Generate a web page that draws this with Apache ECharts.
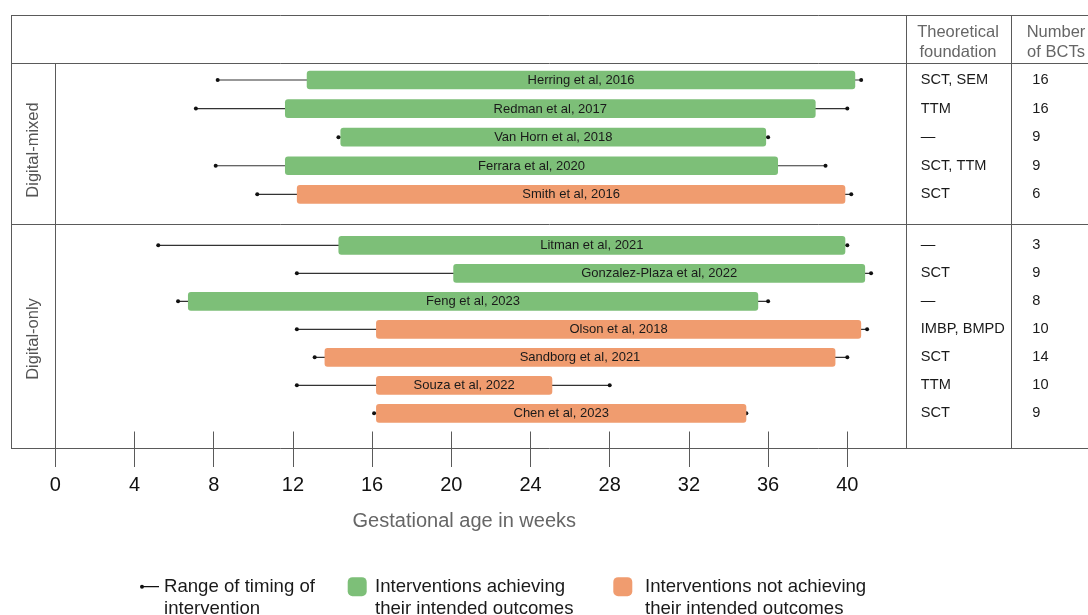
<!DOCTYPE html>
<html><head><meta charset="utf-8">
<script src="https://cdn.jsdelivr.net/npm/echarts@6/dist/echarts.min.js"></script>
<style>html,body{margin:0;padding:0;background:#fff}#c{width:1088px;height:615px}</style>
</head><body><div id="c"></div>
<script>
// ---- data ----
const studies = ['Herring et al, 2016','Redman et al, 2017','Van Horn et al, 2018','Ferrara et al, 2020','Smith et al, 2016',
  'Litman et al, 2021','Gonzalez-Plaza et al, 2022','Feng et al, 2023','Olson et al, 2018','Sandborg et al, 2021','Souza et al, 2022','Chen et al, 2023'];
const groups = ['Digital-mixed','Digital-mixed','Digital-mixed','Digital-mixed','Digital-mixed',
  'Digital-only','Digital-only','Digital-only','Digital-only','Digital-only','Digital-only','Digital-only'];
const groupNames = ['Digital-mixed', 'Digital-only'];
const rangeStart = [8.2, 7.1, 14.3, 8.1, 10.2, 5.2, 12.2, 6.2, 12.2, 13.1, 12.2, 16.1];
const rangeEnd   = [40.7, 40.0, 36.0, 38.9, 40.2, 40.0, 41.2, 36.0, 41.0, 40.0, 28.0, 34.9];
const barStart   = [12.7, 11.6, 14.4, 11.6, 12.2, 14.3, 20.1, 6.7, 16.2, 13.6, 16.2, 16.2];
const barEnd     = [40.4, 38.4, 35.9, 36.5, 39.9, 39.9, 40.9, 35.5, 40.7, 39.4, 25.1, 34.9];
const achieved   = [true, true, true, true, false, true, true, true, false, false, false, false];
const theory     = ['SCT, SEM','TTM','—','SCT, TTM','SCT','—','SCT','—','IMBP, BMPD','SCT','TTM','SCT'];
const bcts       = [16, 16, 9, 9, 6, 3, 9, 8, 10, 14, 10, 9];
const xMin = 0, xMax = 40, xStep = 4;
const axisTitle = 'Gestational age in weeks';
const headerTheory = 'Theoretical\nfoundation';
const headerBcts = 'Number\nof BCTs';
const legendRange = 'Range of timing of\nintervention';
const legendYes = 'Interventions achieving\ntheir intended outcomes';
const legendNo = 'Interventions not achieving\ntheir intended outcomes';

// ---- helpers ----
const FONT = '"Liberation Sans", Arial, sans-serif';
const GREEN = '#7dbf78', ORANGE = '#f09c6f', LINE = '#5a5a5a';
const BAR_H = 18.7;

const theoryMap = {}, bctMap = {};
studies.forEach((s, i) => { theoryMap[s] = theory[i]; bctMap[s] = String(bcts[i]); });

function renderRange(params, api) {
  const y = api.value(1);
  const p0 = api.coord([api.value(0), y]);
  const p1 = api.coord([api.value(2), y]);
  return { type: 'group', children: [
    { type: 'line', shape: { x1: p0[0], y1: p0[1], x2: p1[0], y2: p1[1] }, style: { stroke: '#333', lineWidth: 1.2 } },
    { type: 'circle', shape: { cx: p0[0], cy: p0[1], r: 2 }, style: { fill: '#111' } },
    { type: 'circle', shape: { cx: p1[0], cy: p1[1], r: 2 }, style: { fill: '#111' } }
  ]};
}
function makeBarRenderer(idx) {
  return function (params, api) {
    const y = api.value(1);
    const p0 = api.coord([api.value(0), y]);
    const p1 = api.coord([api.value(2), y]);
    return { type: 'group', children: [
      { type: 'rect', shape: { x: p0[0], y: p0[1] - BAR_H / 2, width: p1[0] - p0[0], height: BAR_H, r: 3 },
        style: { fill: api.visual('color') } },
      { type: 'text', style: { text: studies[idx[params.dataIndex]], x: (p0[0] + p1[0]) / 2, y: p0[1] + 0.5,
        align: 'center', verticalAlign: 'middle', fill: '#1a1a1a', fontSize: 13, fontFamily: FONT } }
    ]};
  };
}
function hline(y, x1, x2) { return { type: 'line', shape: { x1: x1, y1: y, x2: x2, y2: y }, style: { stroke: LINE, lineWidth: 1 }, silent: true }; }
function vline(x, y1, y2) { return { type: 'line', shape: { x1: x, y1: y1, x2: x, y2: y2 }, style: { stroke: LINE, lineWidth: 1 }, silent: true }; }

// ---- layout: one grid per group ----
const gridBoxes = [ { top: 65.7, height: 142.9 }, { top: 231.3, height: 196 } ];
const grids = [], xAxes = [], yAxes = [], series = [];

const xBase = { type: 'value', min: xMin, max: xMax, interval: xStep, position: 'bottom',
  axisLine: { show: false }, splitLine: { show: false } };

groupNames.forEach((g, gi) => {
  const idx = []; studies.forEach((s, i) => { if (groups[i] === g) idx.push(i); });
  const cats = idx.map(i => studies[i]);
  grids.push({ left: 55.3, right: 240.7, top: gridBoxes[gi].top, height: gridBoxes[gi].height });
  const last = gi === groupNames.length - 1;
  const xi = xAxes.length;
  if (!last) {
    xAxes.push(Object.assign({}, xBase, { gridIndex: gi, axisTick: { show: false }, axisLabel: { show: false } }));
  } else {
    const off = 448.5 - (gridBoxes[gi].top + gridBoxes[gi].height);
    xAxes.push(Object.assign({}, xBase, { gridIndex: gi, offset: off,
      axisTick: { show: true, inside: false, length: 18.5, lineStyle: { color: LINE, width: 1 } },
      axisLabel: { margin: 27, fontSize: 20, color: '#111', fontFamily: FONT },
      name: axisTitle, nameLocation: 'middle', nameGap: 63,
      nameTextStyle: { fontSize: 20, color: '#666', fontFamily: FONT, padding: [0, 0, 0, 26] } }));
    xAxes.push(Object.assign({}, xBase, { gridIndex: gi, offset: off,
      axisTick: { show: true, inside: true, length: 17, lineStyle: { color: LINE, width: 1 } },
      axisLabel: { show: false } }));
  }
  const yi = yAxes.length;
  yAxes.push({ type: 'category', gridIndex: gi, data: cats, inverse: true, show: false });
  const rightAxis = (offset, map) => ({ type: 'category', gridIndex: gi, data: cats, inverse: true, position: 'right', offset: offset,
    axisLine: { show: false }, axisTick: { show: false }, splitLine: { show: false },
    axisLabel: { interval: 0, margin: 0, align: 'left', fontSize: 14.6, color: '#1a1a1a', fontFamily: FONT,
      formatter: v => map[v] || '' } });
  yAxes.push(rightAxis(73.5, theoryMap));
  yAxes.push(rightAxis(185, bctMap));

  series.push({ type: 'custom', name: legendRange, xAxisIndex: xi, yAxisIndex: yi, renderItem: renderRange,
    data: idx.map(i => [rangeStart[i], studies[i], rangeEnd[i]]), encode: { x: [0, 2], y: 1 },
    itemStyle: { color: '#111' }, z: 2 });
  const yes = idx.filter(i => achieved[i]), no = idx.filter(i => !achieved[i]);
  [[yes, legendYes, GREEN], [no, legendNo, ORANGE]].forEach(([sub, nm, col]) => {
    if (!sub.length) return;
    series.push({ type: 'custom', name: nm, xAxisIndex: xi, yAxisIndex: yi, renderItem: makeBarRenderer(sub),
      data: sub.map(i => ({ value: [barStart[i], studies[i], barEnd[i]], name: studies[i] })), encode: { x: [0, 2], y: 1 },
      itemStyle: { color: col }, z: 3 });
  });
});

const legendText = { fontSize: 18.6, color: '#1a1a1a', fontFamily: FONT, lineHeight: 22 };
const legendBase = { orient: 'horizontal', padding: 0, selectedMode: false, itemGap: 0, top: 553.7,
  formatter: n => '\n' + n };

const chart = echarts.init(document.getElementById('c'), null, { renderer: 'canvas' });
chart.setOption({
  animation: false,
  textStyle: { fontFamily: FONT },
  grid: grids,
  xAxis: xAxes,
  yAxis: yAxes,
  legend: [
    Object.assign({}, legendBase, { left: 140, itemWidth: 19, itemHeight: 6, data: [legendRange],
      icon: 'path://M0,3A2,2 0 1,1 4,3A2,2 0 1,1 0,3Z M2,2.4L19,2.4L19,3.6L2,3.6Z',
      textStyle: Object.assign({}, legendText, { padding: [0, 0, 0, 0] }) }),
    Object.assign({}, legendBase, { left: 347.7, itemWidth: 19, itemHeight: 19, data: [legendYes], icon: 'roundRect',
      textStyle: Object.assign({}, legendText, { padding: [0, 0, 0, 3.3] }) }),
    Object.assign({}, legendBase, { left: 613.3, itemWidth: 19, itemHeight: 19, data: [legendNo], icon: 'roundRect',
      textStyle: Object.assign({}, legendText, { padding: [0, 0, 0, 7.7] }) })
  ],
  series: series,
  graphic: [
    hline(15.5, 11, 1088), hline(63.5, 11, 1088), hline(224.5, 11, 1088), hline(448.5, 11, 1088),
    vline(11.5, 15, 448.5), vline(55.5, 63.5, 448.5), vline(906.5, 15, 448.5), vline(1011.5, 15, 448.5),
    { type: 'text', x: 958, y: 42.5, silent: true,
      style: { text: headerTheory, align: 'center', verticalAlign: 'middle', fontSize: 16.5, lineHeight: 19.5, fill: '#666', fontFamily: FONT } },
    { type: 'text', x: 1056, y: 42.5, silent: true,
      style: { text: headerBcts, align: 'center', verticalAlign: 'middle', fontSize: 16.5, lineHeight: 19.5, fill: '#666', fontFamily: FONT } },
    { type: 'text', x: 33.5, y: 150, rotation: Math.PI / 2, silent: true,
      style: { text: groupNames[0], align: 'center', verticalAlign: 'middle', fontSize: 16.5, fill: '#555', fontFamily: FONT } },
    { type: 'text', x: 33.5, y: 339, rotation: Math.PI / 2, silent: true,
      style: { text: groupNames[1], align: 'center', verticalAlign: 'middle', fontSize: 16.5, fill: '#555', fontFamily: FONT } }
  ]
});
</script>
</body></html>
